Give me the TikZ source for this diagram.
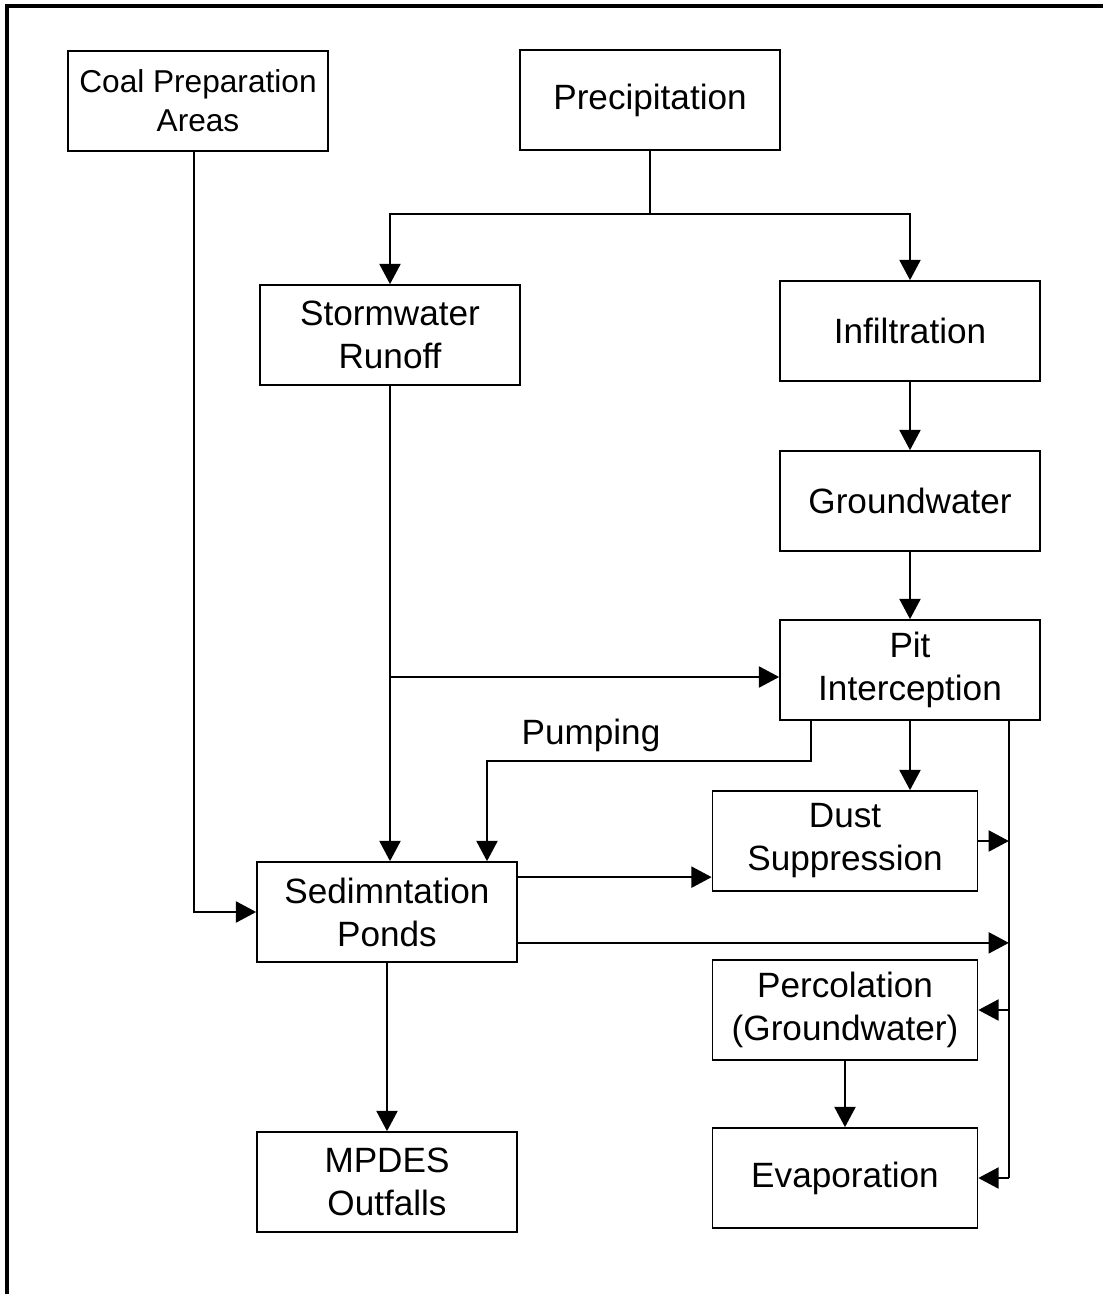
\documentclass[tikz,border=0pt]{standalone}
\usepackage{fontspec}
\setmainfont{Liberation Sans}
\usetikzlibrary{arrows.meta,positioning,calc}
\tikzstyle{box}=[rectangle, draw=black, line width=1pt, minimum width=5.2cm, minimum height=2cm, align=center, inner sep=2pt, font=\fontsize{20}{24.5}\selectfont]
\tikzstyle{wbox}=[box, minimum width=5.3cm]
\tikzstyle{flow}=[-{Triangle[length=11.5pt,width=12pt]}, line width=1pt]
\tikzstyle{lab}=[font=\fontsize{20}{24.5}\selectfont]

\begin{document}
\begin{tikzpicture}[x=0.02cm, y=-0.02cm]
        \useasboundingbox (0,0) rectangle (1103,1294);
        \draw[line width=1.8pt] (1103,6) -- (7,6) -- (7,1294);
        %
        \node at (198,101) [box, font=\fontsize{18}{22}\selectfont] (coal) {Coal Preparation\\Areas};
        \node at (650,100) [box] (precip) {Precipitation};
        \node at (390,335) [box] (storm) {Stormwater\\Runoff};
        \node at (910,331) [box] (infil) {Infiltration};
        \node at (910,501) [box] (ground) {Groundwater};
        \node at (910,670) [box] (pit) {Pit\\Interception};
        \node at (845,841) [wbox] (dust) {Dust\\Suppression};
        \node at (387,912) [box] (sed) {Sedimntation\\Ponds};
        \node at (845,1010) [wbox] (perc) {Percolation\\(Groundwater)};
        \node at (387,1182) [box] (mpdes) {MPDES\\Outfalls};
        \node at (845,1178) [wbox] (evap) {Evaporation};
        \node at (591,735) [lab] (pumping) {Pumping};
        %
        \coordinate (split) at ($(precip.south)+(0,63)$);
        \coordinate (bus) at ($(pit.south east)+(-32,0)$);
        \coordinate (pumpout) at ($(pit.south west)+(32,0)$);
        \coordinate (coalout) at ($(coal.south)+(-4,0)$);
        \coordinate (sedhi) at ($(sed.north east)+(0,16)$);
        \coordinate (sedlo) at ($(sed.south east)+(0,-20)$);
        %
        \draw[line width=1pt] (precip.south) -- (split);
        \draw[flow] (split) -| (storm.north);
        \draw[flow] (split) -| (infil.north);
        \draw[flow] (infil) -- (ground);
        \draw[flow] (ground) -- (pit);
        \draw[flow] (storm.south) -- (storm.south |- sed.north);
        \draw[flow] ($(storm.south |- pit.west)+(0,7)$) -- ($(pit.west)+(0,7)$);
        \draw[flow] (pumpout) -- ++(0,40) -| ($(sed.north)+(100,0)$);
        \draw[flow] (pit.south) -- (pit.south |- dust.north);
        \draw[flow] (coalout) |- (sed.west);
        \draw[flow] (sedhi) -- (sedhi -| dust.west);
        \draw[flow] (sed.south) -- (mpdes.north);
        % right-hand collector
        \draw[line width=1pt] (bus) -- (bus |- evap.east);
        \draw[flow] (dust.east) -- (dust.east -| bus);
        \draw[flow] (sedlo) -- (sedlo -| bus);
        \draw[flow] (bus |- perc.east) -- (perc.east);
        \draw[flow] (bus |- evap.east) -- (evap.east);
        \draw[flow] (perc.south) -- (evap.north);
      \end{tikzpicture}
\end{document}
